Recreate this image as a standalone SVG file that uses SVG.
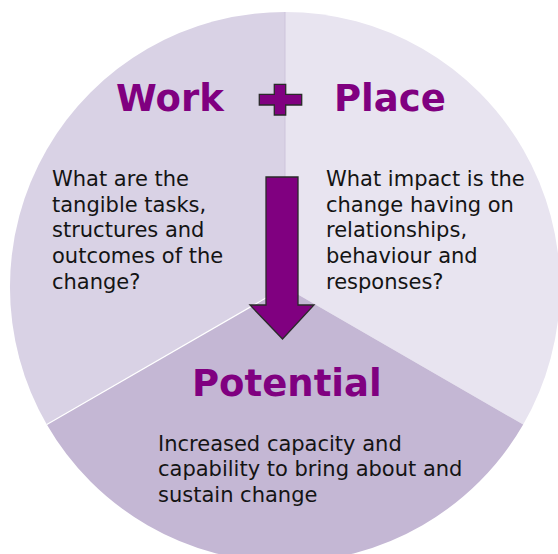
<svg xmlns="http://www.w3.org/2000/svg" width="558" height="554" viewBox="0 0 558 554">
  <style>
    .title { font-family: "DejaVu Sans", Verdana, sans-serif; font-weight: bold; font-size: 37px; fill: #800080; }
    .body { font-family: "DejaVu Sans", Verdana, sans-serif; font-size: 21px; fill: #141414; }
    .sym { fill: #800080; stroke: #2a2a2a; stroke-width: 1.3; stroke-linejoin: miter; }
  </style>
  <rect width="558" height="554" fill="#ffffff"/>
  <g id="work">
    <path d="M285,287 L285,12 A275,275 0 0 0 46.8,424.5 Z" fill="#d9d2e5"/>
    <text class="title" x="116" y="111">Work</text>
    <text class="body">
      <tspan x="52" y="186">What are the</tspan>
      <tspan x="52" y="211.7">tangible tasks,</tspan>
      <tspan x="52" y="237.4">structures and</tspan>
      <tspan x="52" y="263.1">outcomes of the</tspan>
      <tspan x="52" y="288.8">change?</tspan>
    </text>
  </g>
  <g id="place">
    <path d="M285,287 L285,12 A275,275 0 0 1 523.2,424.5 Z" fill="#e8e4f0"/>
    <line x1="285" y1="12" x2="285" y2="287" stroke="#cdc4db" stroke-width="1"/>
    <text class="title" x="334" y="111">Place</text>
    <text class="body">
      <tspan x="326" y="186">What impact is the</tspan>
      <tspan x="326" y="211.7">change having on</tspan>
      <tspan x="326" y="237.4">relationships,</tspan>
      <tspan x="326" y="263.1">behaviour and</tspan>
      <tspan x="326" y="288.8">responses?</tspan>
    </text>
  </g>
  <g id="potential">
    <path d="M285,287 L523.2,424.5 A275,275 0 0 1 46.8,424.5 Z" fill="#c4b7d4"/>
    <line x1="46.8" y1="424.5" x2="285" y2="287" stroke="#ffffff" stroke-width="1.2"/>
    <text class="title" x="192" y="396">Potential</text>
    <text class="body">
      <tspan x="158" y="450.7">Increased capacity and</tspan>
      <tspan x="158" y="476.3">capability to bring about and</tspan>
      <tspan x="158" y="502">sustain change</tspan>
    </text>
  </g>
  <g id="plus">
    <path class="sym" d="M274.3,84.3 H285.7 V94.3 H301.7 V105 H285.7 V115 H274.3 V105 H259.3 V94.3 H274.3 Z"/>
  </g>
  <g id="connectors">
    <path class="sym" d="M266,177 H298 V305 H314 L282.5,339 L250,305 H266 Z"/>
  </g>
</svg>
